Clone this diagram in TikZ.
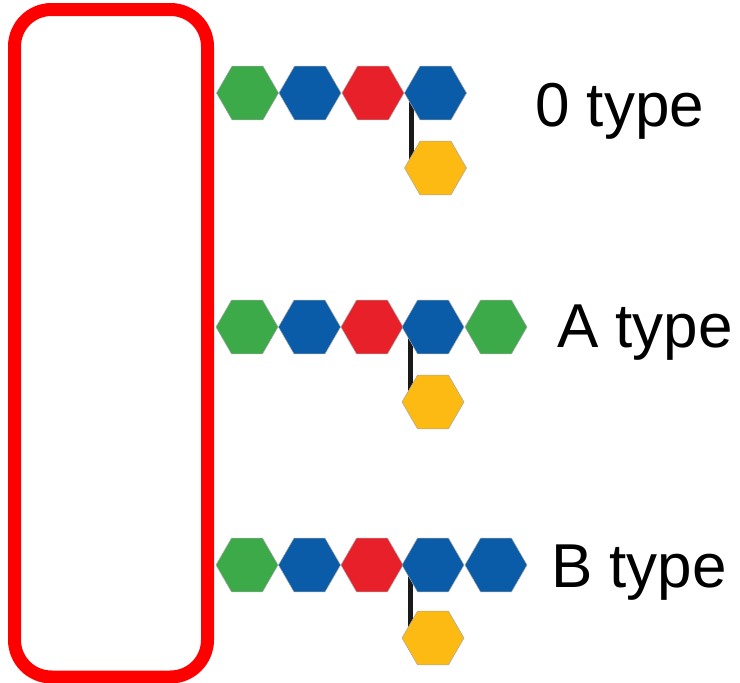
\documentclass[tikz,border=0pt]{standalone}
\usepackage{fontspec}
\setmainfont{Liberation Sans}
\usetikzlibrary{shapes.geometric}
\definecolor{hgreen}{HTML}{3DAA4A}
\definecolor{hblue}{HTML}{0A5CA8}
\definecolor{hred}{HTML}{E8202A}
\definecolor{hyellow}{HTML}{FDBA12}
\definecolor{boxred}{HTML}{FF0000}
\tikzset{
  hex/.style={regular polygon, regular polygon sides=6, minimum size=62pt, inner sep=0pt, draw=black!35, line width=0.5pt},
  G/.style={hex, fill=hgreen},
  Bl/.style={hex, fill=hblue},
  R/.style={hex, fill=hred},
  Y/.style={hex, fill=hyellow},
  link/.style={line width=5pt, black!90},
  lbl/.style={anchor=base west, inner sep=0pt, font=\fontsize{62}{74}\selectfont},
}
\begin{document}
\begin{tikzpicture}[x=1pt,y=-1pt]
\useasboundingbox (0,0) rectangle (740,683);
\draw[boxred, line width=13pt, rounded corners=37pt] (14.5,9.5) rectangle (207.5,677);
% row 0
\coordinate (l0a) at (411,93);
\coordinate (l0b) at (411,168);
\draw[link] (l0a) -- (l0b);
\node[G] (o1) at (247.5,93) {};
\node[Bl] (o2) at (310,93) {};
\node[R] (o3) at (373,93) {};
\node[Bl] (o4) at (435.5,93) {};
\node[Y] (o5) at (435.5,168) {};
\node[lbl] (t0) at (535,126) {0 type};
% row A
\coordinate (lAa) at (410,327);
\coordinate (lAb) at (410,402);
\draw[link] (lAa) -- (lAb);
\node[G] (a1) at (247,327) {};
\node[Bl] (a2) at (309.5,327) {};
\node[R] (a3) at (372,327) {};
\node[Bl] (a4) at (433,327) {};
\node[G] (a5) at (496,327) {};
\node[Y] (a6) at (433,402) {};
\node[lbl] (tA) at (557,347) {A type};
% row B
\coordinate (lBa) at (410,565);
\coordinate (lBb) at (410,638);
\draw[link] (lBa) -- (lBb);
\node[G] (b1) at (247,565) {};
\node[Bl] (b2) at (309.5,565) {};
\node[R] (b3) at (372,565) {};
\node[Bl] (b4) at (433,565) {};
\node[Bl] (b5) at (496,565) {};
\node[Y] (b6) at (433,638) {};
\node[lbl] (tB) at (551,587) {B type};
\end{tikzpicture}
\end{document}
